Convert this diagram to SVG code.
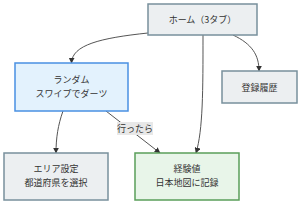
<svg xmlns="http://www.w3.org/2000/svg" width="300" height="204" viewBox="0 0 300 204">
<style>
text{font-family:"Noto Sans CJK JP","Noto Sans",sans-serif;font-size:9px;fill:#333;text-anchor:middle;dominant-baseline:central}
.grey rect{fill:#eceff1;stroke:#78909c;stroke-width:1.5}
.blue rect{fill:#e3f2fd;stroke:#4a90e2;stroke-width:1.5}
.green rect{fill:#e8f5e9;stroke:#5a9e5a;stroke-width:1.5}
.edge{fill:none;stroke:#555;stroke-width:1;marker-end:url(#arr)}
</style>
<defs>
<marker id="arr" viewBox="0 0 10 10" refX="9" refY="5" markerWidth="6" markerHeight="6" orient="auto"><path d="M0,0L10,5L0,10z" fill="#333"/></marker>
</defs>
<g id="connectors">
<path class="edge" d="M148,33 C100,38 72,45 71.5,63"/>
<path class="edge" d="M203,35 C203,90 203,130 196,153"/>
<path class="edge" d="M233,35 C252,44 259,55 259,71"/>
<path class="edge" d="M63,111 C58,125 56,138 56,153"/>
<path class="edge" d="M106,111 L160,153"/>
<rect x="117" y="122" width="36" height="13" fill="#e8e8e8"/>
<text x="135" y="128.5">行ったら</text>
</g>
<g id="home" class="grey"><rect x="148" y="4" width="109" height="31"/><text x="202.5" y="19.5">ホーム（3タブ）</text></g>
<g id="random" class="blue"><rect x="15" y="63" width="113" height="48"/><text x="71.5" y="79">ランダム</text><text x="71.5" y="93">スワイプでダーツ</text></g>
<g id="history" class="grey"><rect x="222" y="71" width="75" height="32"/><text x="259.5" y="87">登録履歴</text></g>
<g id="area" class="grey"><rect x="4" y="153" width="104" height="47"/><text x="56" y="168.5">エリア設定</text><text x="56" y="182.5">都道府県を選択</text></g>
<g id="exp" class="green"><rect x="135" y="153" width="104" height="47"/><text x="187" y="168.5">経験値</text><text x="187" y="182.5">日本地図に記録</text></g>
</svg>
